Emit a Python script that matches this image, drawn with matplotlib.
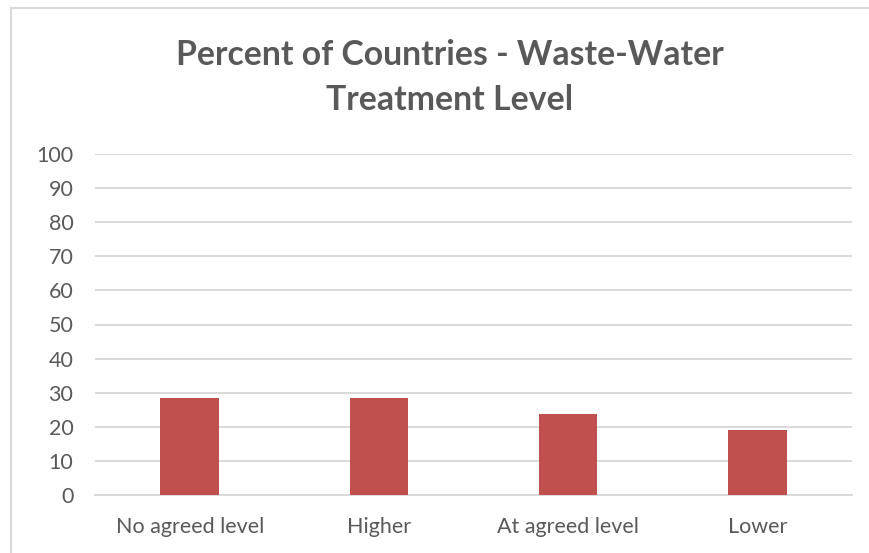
import matplotlib.pyplot as plt
from matplotlib.lines import Line2D

categories = ['No agreed level', 'Higher', 'At agreed level', 'Lower']
percents = [28.57, 28.57, 23.81, 19.05]
y_ticks = [0, 10, 20, 30, 40, 50, 60, 70, 80, 90, 100]

txt = '#595959'
grid_c = '#d9d9d9'
bar_c = '#c0504d'

plt.rcParams['font.family'] = ['Lato', 'DejaVu Sans']

fig = plt.figure(figsize=(8.69, 5.53), dpi=100)
ax = fig.add_axes([95 / 869, 1 - 495 / 553, 757 / 869, 341 / 553])

ax.bar(range(len(categories)), percents, width=0.31, color=bar_c, zorder=3)
ax.set_xlim(-0.5, 3.5)
ax.set_ylim(0, 100)
ax.set_yticks(y_ticks)
ax.set_xticks(range(len(categories)))
ax.set_xticklabels(categories)
ax.tick_params(axis='both', length=0, colors=txt, labelsize=15.5)
ax.tick_params(axis='y', pad=15.5)
ax.tick_params(axis='x', pad=16)
ax.grid(axis='y', color=grid_c, linewidth=1.4, zorder=0)
for s in ['left', 'right', 'top']:
    ax.spines[s].set_visible(False)
ax.spines['bottom'].set_color(grid_c)
ax.spines['bottom'].set_linewidth(1.4)

fig.text(450 / 869, 1 - 77.5 / 553, 'Percent of Countries - Waste-Water\nTreatment Level',
         ha='center', va='center', fontsize=24.3, fontweight='bold', color=txt,
         linespacing=1.48)

# chart frame
fig.add_artist(Line2D([11 / 869, 11 / 869], [0, 1 - 8 / 553], color=grid_c, linewidth=1.5))
fig.add_artist(Line2D([11 / 869, 1], [1 - 8 / 553, 1 - 8 / 553], color=grid_c, linewidth=1.5))

fig.savefig('out.png', dpi=100)
